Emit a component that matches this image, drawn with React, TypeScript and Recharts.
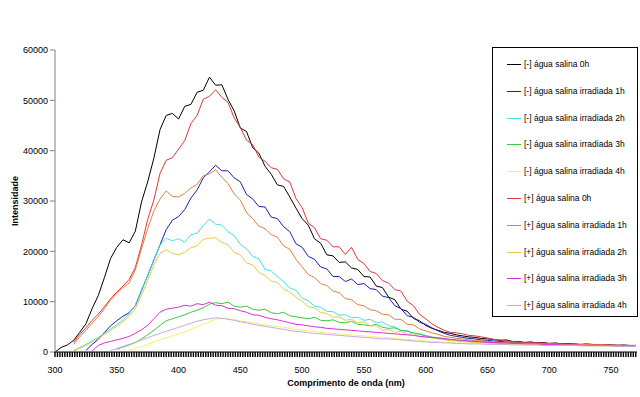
import React from 'react';
import { Label, Line, LineChart, XAxis, YAxis } from 'recharts';

// comprimento de onda (nm)
const nm = [
	300, 305, 310, 315, 320, 325, 330, 335, 340, 345,
	350, 355, 360, 365, 370, 375, 380, 385, 390, 395,
	400, 405, 410, 415, 420, 425, 430, 435, 440, 445,
	450, 455, 460, 465, 470, 475, 480, 485, 490, 495,
	500, 505, 510, 515, 520, 525, 530, 535, 540, 545,
	550, 555, 560, 565, 570, 575, 580, 585, 590, 595,
	600, 605, 610, 615, 620, 625, 630, 635, 640, 645,
	650, 655, 660, 665, 670, 675, 680, 685, 690, 695,
	700, 705, 710, 715, 720, 725, 730, 735, 740, 745,
	750, 755, 760, 765, 770,
];

const neg0h = [
	0, 900, 1400, 2300, 3900, 5600, 8600, 11200, 14800, 18600,
	20800, 22300, 21700, 24000, 29800, 33800, 38500, 44200, 47000, 47400,
	46300, 48800, 49200, 51600, 52000, 54600, 53000, 53100, 50200, 47900,
	44500, 43800, 40600, 39500, 36900, 35300, 33200, 32900, 30800, 28600,
	26500, 25200, 22500, 21600, 19300, 19100, 17800, 17900, 16700, 16400,
	15000, 14900, 13100, 12800, 10900, 10400, 8500, 8100, 6700, 6200,
	5300, 4700, 4300, 3900, 3700, 3400, 3200, 3000, 2900, 2700,
	2600, 2500, 2300, 2400, 2100, 2100, 1900, 2000, 1800, 1900,
	1700, 1800, 1600, 1700, 1600, 1500, 1600, 1500, 1400, 1500,
	1400, 1300, 1400, 1300, 1300,
];

const neg1h = [
	null, null, null, null, null, 300, 1500, 2500, 3900, 5200,
	6200, 7100, 7800, 9200, 12200, 15200, 18300, 21300, 24300, 26200,
	26900, 28300, 30600, 32200, 34600, 35800, 37100, 36000, 36000, 34600,
	33800, 31300, 30400, 28900, 28800, 26800, 26500, 24900, 23900, 21500,
	20800, 19000, 18400, 16900, 16500, 15000, 15000, 14000, 14500, 13400,
	13600, 12600, 12400, 11100, 10800, 9200, 8600, 7200, 6900, 5900,
	5500, 4800, 4200, 3700, 3300, 3100, 2900, 2700, 2600, 2400,
	2300, 2200, 2100, 2000, 1900, 1900, 1800, 1800, 1700, 1700,
	1600, 1600, 1600, 1500, 1500, 1500, 1400, 1400, 1400, 1400,
	1300, 1300, 1300, 1200, 1200,
];

const neg2h = [
	null, null, null, 300, 900, 1500, 2200, 2900, 3700, 4600,
	5400, 6400, 7600, 9300, 12400, 15100, 18200, 21300, 22600, 22100,
	22500, 21800, 23300, 23600, 25100, 26400, 25400, 25200, 23900, 23100,
	21400, 20500, 19000, 18500, 16400, 16100, 15000, 14000, 12700, 12300,
	10700, 10200, 9100, 8900, 8100, 8000, 7300, 7400, 6800, 6900,
	6300, 6500, 5800, 6000, 5200, 5000, 4200, 4300, 3700, 3700,
	3300, 3000, 2800, 2600, 2400, 2300, 2200, 2100, 2000, 2000,
	1900, 1900, 1800, 1800, 1700, 1700, 1700, 1600, 1600, 1600,
	1500, 1500, 1500, 1500, 1400, 1400, 1400, 1400, 1400, 1300,
	1300, 1300, 1300, 1300, 1300,
];

const neg3h = [
	null, null, null, null, null, null, null, null, null, null,
	500, 1000, 1400, 1900, 2600, 3400, 4300, 5300, 6200, 6600,
	7000, 7400, 7900, 8300, 8800, 9500, 9800, 9600, 9900, 9100,
	8900, 9100, 8500, 8300, 8500, 7800, 7600, 7900, 7200, 7000,
	6800, 6600, 6900, 6300, 6200, 6400, 5900, 5800, 6100, 5500,
	5400, 5200, 5500, 4900, 4700, 4800, 4300, 4100, 3800, 3500,
	3200, 2900, 2700, 2500, 2400, 2300, 2200, 2100, 2000, 1900,
	1900, 1800, 1800, 1700, 1700, 1600, 1600, 1600, 1500, 1500,
	1500, 1500, 1400, 1400, 1400, 1400, 1300, 1300, 1300, 1300,
	1300, 1300, 1200, 1200, 1200,
];

const neg4h = [
	null, null, null, null, null, null, null, null, null, null,
	null, null, 300, 700, 1100, 1500, 2000, 2400, 2800, 3200,
	3600, 4000, 4500, 5000, 5500, 6000, 6500, 6700, 6600, 6400,
	6200, 6000, 5800, 5600, 5400, 5200, 5100, 4900, 4700, 4500,
	4400, 4200, 4100, 3900, 3800, 3700, 3600, 3500, 3400, 3300,
	3200, 3100, 3000, 2900, 2800, 2700, 2600, 2500, 2400, 2300,
	2200, 2100, 2000, 1900, 1900, 1800, 1800, 1700, 1700, 1600,
	1600, 1600, 1500, 1500, 1500, 1500, 1400, 1400, 1400, 1400,
	1400, 1300, 1300, 1300, 1300, 1300, 1300, 1200, 1200, 1200,
	1200, 1200, 1200, 1200, 1200,
];

const pos0h = [
	null, null, null, 1900, 3500, 4800, 6300, 7500, 9000, 10600,
	11900, 13100, 14400, 16800, 21200, 26300, 30200, 35500, 38100, 38600,
	40300, 42000, 45400, 47000, 50200, 50800, 52100, 50600, 49600, 46500,
	44600, 42100, 41200, 38700, 37900, 36600, 36300, 34400, 33800, 30500,
	28700, 25600, 24700, 22500, 22200, 20900, 20900, 19400, 20800, 18400,
	17600, 16000, 15600, 14200, 13700, 12400, 12100, 10100, 9200, 7500,
	6600, 5600, 4900, 4300, 3900, 3800, 3600, 3300, 3200, 3000,
	2800, 2500, 2400, 2200, 2100, 2000, 1900, 1900, 1800, 1800,
	1700, 1700, 1600, 1600, 1600, 1500, 1500, 1500, 1500, 1400,
	1400, 1400, 1300, 1300, 1300,
];

const pos1h = [
	null, null, null, 1500, 3000, 4300, 5700, 7000, 8600, 10300,
	11600, 12800, 13700, 16300, 20500, 24500, 28000, 30400, 32000, 30900,
	30800, 31500, 32600, 33300, 35000, 35400, 36200, 34700, 33500, 31400,
	30200, 27700, 26500, 25000, 24500, 23300, 22800, 21100, 20400, 18400,
	16900, 15400, 14800, 13600, 13200, 12100, 11800, 10600, 10400, 9400,
	9200, 8400, 8200, 7500, 7400, 6500, 6500, 5500, 5400, 4600,
	4200, 3800, 3500, 3100, 2900, 2700, 2600, 2400, 2300, 2200,
	2100, 2000, 1900, 1900, 1800, 1800, 1700, 1700, 1700, 1600,
	1600, 1600, 1500, 1500, 1500, 1500, 1400, 1400, 1400, 1400,
	1300, 1300, 1300, 1300, 1300,
];

const pos2h = [
	null, null, null, 200, 700, 1300, 2000, 2700, 3500, 4300,
	5100, 6000, 7100, 8600, 11300, 14200, 17300, 19600, 20300, 19600,
	19300, 19800, 20700, 21100, 22400, 22600, 22700, 21800, 21300, 19800,
	19300, 17700, 17300, 15800, 15200, 14100, 13800, 12500, 11900, 10900,
	10100, 9000, 8800, 7800, 7700, 6900, 7000, 6300, 6500, 5800,
	6000, 5200, 5200, 4300, 4500, 3900, 4100, 3500, 3700, 3100,
	3000, 2800, 2600, 2400, 2300, 2200, 2100, 2000, 1900, 1900,
	1800, 1800, 1700, 1700, 1700, 1600, 1600, 1600, 1500, 1500,
	1500, 1500, 1400, 1400, 1400, 1400, 1400, 1300, 1300, 1300,
	1300, 1300, 1200, 1200, 1200,
];

const pos3h = [
	null, null, null, null, null, null, 200, 1300, 1800, 2100,
	2400, 2700, 3100, 3700, 4400, 5300, 6600, 7900, 8500, 8700,
	8900, 9300, 9100, 9600, 9400, 9900, 9300, 9200, 8700, 8600,
	8200, 7900, 7400, 7300, 6900, 6600, 6400, 6100, 5800, 5500,
	5400, 5200, 5000, 4900, 4700, 4600, 4500, 4400, 4300, 4200,
	4100, 4000, 3900, 3800, 3700, 3600, 3500, 3400, 3300, 3100,
	3000, 2900, 2800, 2700, 2500, 2400, 2300, 2200, 2100, 2000,
	1900, 1900, 1800, 1800, 1700, 1700, 1600, 1600, 1600, 1500,
	1500, 1500, 1400, 1400, 1400, 1400, 1300, 1300, 1300, 1300,
	1300, 1200, 1200, 1200, 1200,
];

const pos4h = [
	null, null, null, null, null, null, null, null, null, 300,
	700, 1100, 1500, 1900, 2400, 2800, 3300, 3700, 4100, 4500,
	4900, 5300, 5700, 6100, 6400, 6600, 6800, 6700, 6500, 6300,
	6000, 5800, 5500, 5300, 5100, 4900, 4700, 4500, 4300, 4100,
	4000, 3800, 3700, 3600, 3500, 3400, 3300, 3200, 3100, 3000,
	2900, 2800, 2700, 2600, 2600, 2500, 2400, 2300, 2200, 2100,
	2000, 1900, 1900, 1800, 1800, 1700, 1700, 1600, 1600, 1600,
	1500, 1500, 1500, 1500, 1400, 1400, 1400, 1400, 1400, 1300,
	1300, 1300, 1300, 1300, 1300, 1200, 1200, 1200, 1200, 1200,
	1200, 1100, 1100, 1100, 1100,
];

const series = [
	{ key: 'neg0h', name: '[-] água salina 0h', values: neg0h, color: '#000000' },
	{ key: 'neg1h', name: '[-] água salina irradiada 1h', values: neg1h, color: '#1f1fa8' },
	{ key: 'neg2h', name: '[-] água salina irradiada 2h', values: neg2h, color: '#3fe3e8' },
	{ key: 'neg3h', name: '[-] água salina irradiada 3h', values: neg3h, color: '#3ec83e' },
	{ key: 'neg4h', name: '[-] água salina irradiada 4h', values: neg4h, color: '#f4f070' },
	{ key: 'pos0h', name: '[+] água salina 0h', values: pos0h, color: '#e03838' },
	{ key: 'pos1h', name: '[+] água salina irradiada 1h', values: pos1h, color: '#e08040' },
	{ key: 'pos2h', name: '[+] água salina irradiada 2h', values: pos2h, color: '#f0c840' },
	{ key: 'pos3h', name: '[+] água salina irradiada 3h', values: pos3h, color: '#d830d8' },
	{ key: 'pos4h', name: '[+] água salina irradiada 4h', values: pos4h, color: '#c8a8e0' },
];

const yTicks = [0, 10000, 20000, 30000, 40000, 50000, 60000];
const xLabels = [300, 350, 400, 450, 500, 550, 600, 650, 700, 750];

const data = nm.map((x, i) => {
	const row: any = { nm: x };
	series.forEach((s) => (row[s.key] = s.values[i]));
	return row;
});

// dense minor ticks like the original category axis
const xTicks: number[] = [];
for (let t = 300; t <= 770; t += 2) xTicks.push(t);

const font = '"Liberation Sans", Arial, sans-serif';

const XTick = (props: any) => {
	const { x, y, payload } = props;
	return (
		<g>
			<line x1={x} x2={x} y1={352} y2={357} stroke='#000' strokeWidth={1.4} />
			{xLabels.includes(payload.value) && (
				<text x={x} y={y} dy='0.71em' textAnchor='middle' fontSize={9} fill='#000' fontFamily={font}>
					{payload.value}
				</text>
			)}
		</g>
	);
};

const YTitle = (props: any) => {
	const { viewBox } = props;
	const cx = 15;
	const cy = viewBox.y + viewBox.height / 2;
	return (
		<text
			x={cx}
			y={cy}
			transform={`rotate(-90 ${cx} ${cy})`}
			textAnchor='middle'
			dominantBaseline='central'
			fontSize={9}
			fontWeight='bold'
			fill='#000'
			fontFamily={font}
		>
			Intensidade
		</text>
	);
};

export default function App() {
	return (
		<div style={{ position: 'absolute', left: 0, top: 0, width: 640, height: 397, background: '#fff' }}>
			<LineChart width={640} height={397} data={data} margin={{ top: 50, right: 3, left: 0, bottom: 0 }}>
				<XAxis
					dataKey='nm'
					type='number'
					domain={[300, 771]}
					ticks={xTicks}
					interval={0}
					height={45}
					tick={<XTick />}
					tickLine={false}
					tickMargin={9}
					stroke='#000'
					allowDataOverflow
				>
					<Label
						value='Comprimento de onda (nm)'
						position='insideBottom'
						offset={11}
						style={{ fontSize: 9, fontWeight: 'bold', fill: '#000', fontFamily: font }}
					/>
				</XAxis>
				<YAxis
					domain={[0, 60000]}
					ticks={yTicks}
					width={55}
					tickSize={5}
					stroke='#808080'
					tick={{ fontSize: 9, fill: '#000', fontFamily: font }}
				>
					<Label content={<YTitle />} />
				</YAxis>
				{series.map((s) => (
					<Line
						key={s.key}
						dataKey={s.key}
						name={s.name}
						stroke={s.color}
						strokeWidth={1}
						dot={false}
						type='linear'
						isAnimationActive={false}
					/>
				))}
			</LineChart>
			<div
				style={{
					position: 'absolute',
					left: 492,
					top: 47,
					width: 144,
					height: 268,
					border: '1px solid #000',
					background: '#fff',
					fontFamily: font,
					fontSize: 8.5,
				}}
			>
				{series.map((s, i) => (
					<div
						key={s.key}
						style={{ position: 'absolute', left: 14, top: 9 + i * 26.8, height: 14, display: 'flex', alignItems: 'center' }}
					>
						<svg width={17} height={14} style={{ display: 'block' }}>
							<line x1={0} x2={14} y1={7.5} y2={7.5} stroke={s.color} strokeWidth={1} />
						</svg>
						<span style={{ whiteSpace: 'nowrap', color: '#000' }}>{s.name}</span>
					</div>
				))}
			</div>
		</div>
	);
}
